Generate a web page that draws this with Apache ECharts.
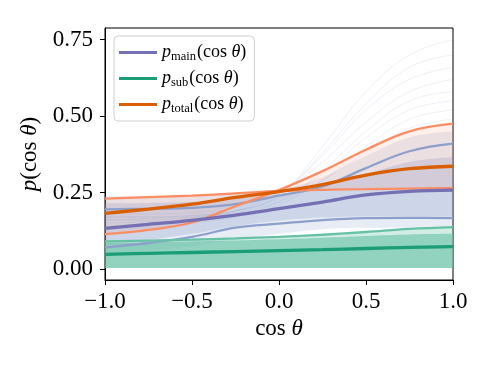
<!DOCTYPE html>
<html>
<head>
<meta charset="utf-8">
<script src="https://cdn.jsdelivr.net/npm/echarts@6/dist/echarts.min.js"></script>
<style>html,body{margin:0;padding:0;background:#fff}#c{width:498px;height:374px}</style>
</head>
<body>
<div id="c"></div>
<script>
// ---- data ----
const xs = [-1, -0.75, -0.5, -0.25, 0, 0.25, 0.5, 0.75, 1];
const xTicks = [-1, -0.5, 0, 0.5, 1];
const yTicks = [0, 0.25, 0.5, 0.75];

const mainMedian = [0.133, 0.146, 0.159, 0.176, 0.197, 0.219, 0.242, 0.254, 0.258];
const mainLow    = [0.071, 0.085, 0.105, 0.135, 0.148, 0.160, 0.166, 0.167, 0.166];
const mainHigh   = [0.195, 0.197, 0.200, 0.212, 0.240, 0.270, 0.330, 0.385, 0.410];
const subMedian  = [0.048, 0.051, 0.054, 0.057, 0.060, 0.063, 0.067, 0.071, 0.073];
const subHigh    = [0.090, 0.093, 0.096, 0.100, 0.105, 0.112, 0.121, 0.131, 0.137];
const totalMedian= [0.182, 0.196, 0.212, 0.234, 0.253, 0.276, 0.307, 0.328, 0.336];
const totalA     = [0.114, 0.128, 0.152, 0.205, 0.258, 0.320, 0.390, 0.450, 0.475];
const totalB     = [0.230, 0.235, 0.240, 0.247, 0.255, 0.259, 0.261, 0.263, 0.264];

// spread of the faint posterior draws (envelopes)
const mainOuterLo = [0.050, 0.060, 0.075, 0.095, 0.115, 0.130, 0.135, 0.135, 0.135];
const mainOuterHi = [0.238, 0.238, 0.240, 0.245, 0.260, 0.300, 0.370, 0.430, 0.450];
const mainCoreLo  = [0.080, 0.095, 0.115, 0.140, 0.158, 0.168, 0.172, 0.172, 0.172];
const mainCoreHi  = [0.215, 0.216, 0.220, 0.230, 0.245, 0.270, 0.310, 0.350, 0.365];
const subLo       = [0.003, 0.003, 0.003, 0.003, 0.003, 0.003, 0.003, 0.003, 0.003];
const subCoreHi   = [0.085, 0.087, 0.090, 0.093, 0.097, 0.102, 0.108, 0.113, 0.115];
// a few individual faint draws of p_main visible above the band
const mainDraws = [
  [0.170, 0.170, 0.175, 0.190, 0.240, 0.400, 0.580, 0.700, 0.750],
  [0.160, 0.165, 0.170, 0.190, 0.240, 0.380, 0.540, 0.660, 0.700],
  [0.150, 0.155, 0.165, 0.190, 0.250, 0.370, 0.520, 0.620, 0.660],
  [0.180, 0.180, 0.185, 0.200, 0.250, 0.350, 0.480, 0.580, 0.620],
  [0.140, 0.145, 0.155, 0.175, 0.220, 0.320, 0.450, 0.550, 0.580],
  [0.170, 0.170, 0.175, 0.190, 0.230, 0.310, 0.430, 0.520, 0.550],
  [0.130, 0.135, 0.150, 0.170, 0.210, 0.290, 0.400, 0.490, 0.520],
  [0.160, 0.160, 0.170, 0.185, 0.220, 0.290, 0.380, 0.460, 0.490]
];
const legendNames = ['main', 'sub', 'total'];

// ---- chart ----
const SERIF = 'Liberation Serif';
const C = {
  main: '#7570b3', mainL: '#8da0cb',
  sub: '#1b9e77', subL: '#66c2a5',
  total: '#d95f02', totalL: '#fc8d62'
};
const SM = 0.4;

// bands are drawn on a hidden category x-axis whose categories are xs (evenly spaced, same span)
function band(id, lo, hi, color, opacity) {
  return [
    { name: id + '_lo', type: 'line', xAxisIndex: 1, stack: id, data: lo.slice(), smooth: SM, symbol: 'none',
      silent: true, lineStyle: { opacity: 0 } },
    { name: id + '_hi', type: 'line', xAxisIndex: 1, stack: id, data: hi.map((v, i) => v - lo[i]),
      smooth: SM, symbol: 'none', silent: true, lineStyle: { opacity: 0 },
      areaStyle: { color: color, opacity: opacity } }
  ];
}
function line(name, arr, color, width) {
  return { name: name, type: 'line', xAxisIndex: 1, data: arr.slice(), smooth: SM, symbol: 'none',
    silent: true, lineStyle: { color: color, width: width }, itemStyle: { color: color } };
}

const tLo = totalA.map((v, i) => Math.min(v, totalB[i]));
const tHi = totalA.map((v, i) => Math.max(v, totalB[i]));

const series = [];
series.push(...band('mOuter', mainOuterLo, mainOuterHi, C.mainL, 0.2));
series.push(...band('mCore', mainCoreLo, mainCoreHi, C.mainL, 0.3));
mainDraws.forEach((d, k) => series.push(line('draw' + k, d, 'rgba(141,160,203,0.2)', 0.8)));
series.push(...band('sOuter', subLo, subHigh, C.subL, 0.3));
series.push(...band('sCore', subLo, subCoreHi, C.subL, 0.6));
series.push(...band('tTint', tLo, tHi, C.totalL, 0.13));
series.push(line('mainLow', mainLow, C.mainL, 2.3));
series.push(line('mainHigh', mainHigh, C.mainL, 2.3));
series.push(line('subHigh', subHigh, C.subL, 2.3));
series.push(line('totalA', totalA, C.totalL, 2.3));
series.push(line('totalB', totalB, C.totalL, 2.3));
series.push(line('main', mainMedian, C.main, 3.3));
series.push(line('sub', subMedian, C.sub, 3.3));
series.push(line('total', totalMedian, C.total, 3.3));

const fmtX = v => (v < 0 ? '\u2212' : '') + Math.abs(v).toFixed(1);
const fmtY = v => v.toFixed(2);

const chart = echarts.init(document.getElementById('c'), null, { renderer: 'canvas' });
chart.setOption({
  animation: false,
  backgroundColor: '#fff',
  grid: { left: 105, right: 45, top: 28, bottom: 94, show: true, borderColor: '#000', borderWidth: 1, backgroundColor: 'transparent' },
  legend: {
    data: legendNames, orient: 'vertical', left: 114, top: 36,
    icon: 'rect', itemWidth: 38, itemHeight: 3, itemGap: 5,
    backgroundColor: 'rgba(255,255,255,0.85)', borderColor: '#d0d0d0', borderWidth: 1, borderRadius: 4,
    padding: [6, 8, 6, 5],
    formatter: n => '{p|p}{s|' + n + '}{n|(cos }{t|θ}{n|)}',
    textStyle: {
      color: '#000',
      rich: {
        p: { fontFamily: SERIF, fontStyle: 'italic', fontSize: 18, lineHeight: 21, verticalAlign: 'middle' },
        s: { fontFamily: SERIF, fontSize: 12.5, lineHeight: 12, padding: [8, 1, 0, 0], verticalAlign: 'middle' },
        n: { fontFamily: SERIF, fontSize: 18, lineHeight: 21, verticalAlign: 'middle' },
        t: { fontFamily: SERIF, fontStyle: 'italic', fontSize: 18, lineHeight: 21, verticalAlign: 'middle' }
      }
    }
  },
  xAxis: [{
    type: 'value', min: -1, max: 1, interval: 0.5,
    name: '{n|cos }{t|θ}', nameLocation: 'middle', nameGap: 36,
    nameTextStyle: { rich: {
      n: { fontFamily: SERIF, fontSize: 23, color: '#000' },
      t: { fontFamily: SERIF, fontStyle: 'italic', fontSize: 23, color: '#000' } } },
    axisLine: { onZero: false, lineStyle: { color: '#000', width: 1 } },
    axisTick: { inside: false, length: 5, lineStyle: { color: '#000' }, customValues: xTicks },
    axisLabel: { customValues: xTicks, formatter: fmtX, margin: 10, color: '#000', fontFamily: SERIF, fontSize: 23 },
    splitLine: { show: false }
  }, {
    type: 'category', data: xs.map(String), boundaryGap: false, show: false
  }],
  yAxis: {
    type: 'value', min: -0.036, max: 0.788,
    name: '{t|p}{n|(cos }{t|θ}{n|)}', nameLocation: 'middle', nameGap: 60, nameRotate: 90,
    nameTextStyle: { rich: {
      n: { fontFamily: SERIF, fontSize: 23, color: '#000' },
      t: { fontFamily: SERIF, fontStyle: 'italic', fontSize: 23, color: '#000' } } },
    axisLine: { show: true, onZero: false, lineStyle: { color: '#000', width: 1 } },
    axisTick: { show: true, inside: false, length: 5, lineStyle: { color: '#000' }, customValues: yTicks },
    axisLabel: { customValues: yTicks, formatter: fmtY, margin: 12, color: '#000', fontFamily: SERIF, fontSize: 23 },
    splitLine: { show: false }
  },
  series: series
});
</script>
</body>
</html>
